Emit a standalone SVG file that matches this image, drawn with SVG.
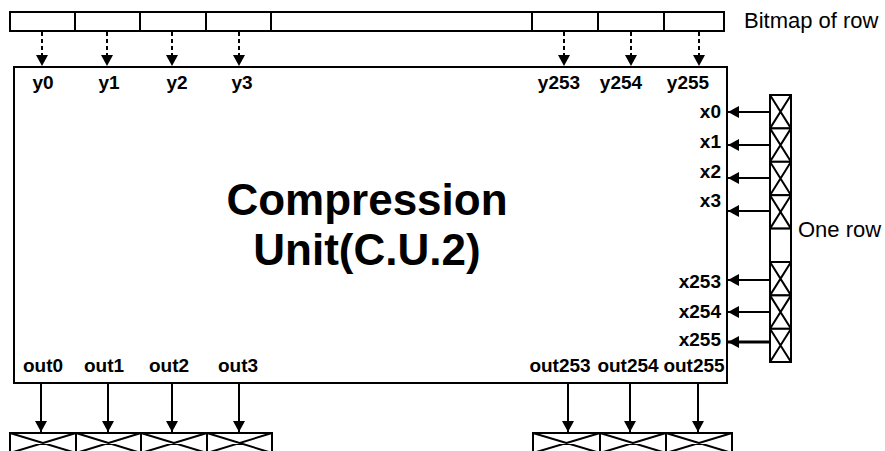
<svg xmlns="http://www.w3.org/2000/svg" width="885" height="451" viewBox="0 0 885 451">
<style>
.cell{fill:#fff;stroke:#000;stroke-width:2}
.x{stroke:#000;stroke-width:2;fill:none}
.box{fill:#fff;stroke:#000;stroke-width:2}
.lbl{font-family:"Liberation Sans",Arial,sans-serif;font-weight:bold;font-size:19px;fill:#000}
.title{font-family:"Liberation Sans",Arial,sans-serif;font-weight:bold;font-size:44px;fill:#000;text-anchor:middle}
.note{font-family:"Liberation Sans",Arial,sans-serif;font-size:22px;fill:#000}
.dash{stroke:#000;stroke-width:2;stroke-dasharray:4 3;fill:none}
.sol{stroke:#000;stroke-width:2;fill:none}
.mid{text-anchor:middle}
.end{text-anchor:end}
</style>
<defs>
<marker id="ah" viewBox="0 0 11 12" refX="11" refY="6" markerWidth="11" markerHeight="12" markerUnits="userSpaceOnUse" orient="auto">
<path d="M0,0 L11,6 L0,12 z" fill="#000"/>
</marker>
<clipPath id="clipBottom"><rect x="0" y="0" width="885" height="451"/></clipPath>
</defs>

<g id="bitmap">
<rect class="cell" x="10" y="12" width="65" height="19"/>
<rect class="cell" x="75" y="12" width="65" height="19"/>
<rect class="cell" x="140" y="12" width="66" height="19"/>
<rect class="cell" x="206" y="12" width="65" height="19"/>
<rect class="cell" x="271" y="12" width="261" height="19"/>
<rect class="cell" x="532" y="12" width="66" height="19"/>
<rect class="cell" x="598" y="12" width="66" height="19"/>
<rect class="cell" x="664" y="12" width="60" height="19"/>
<text class="note" x="744" y="28">Bitmap of row</text>
</g>

<g id="cu">
<rect class="box" x="14" y="67" width="713" height="316"/>
<text class="title" x="367" y="215">Compression</text>
<text class="title" x="367" y="265">Unit(C.U.2)</text>
<g class="lbl mid">
<text x="43" y="89">y0</text>
<text x="109" y="89">y1</text>
<text x="177" y="89">y2</text>
<text x="242" y="89">y3</text>
<text x="559" y="89">y253</text>
<text x="621" y="89">y254</text>
<text x="688" y="89">y255</text>
<text x="43" y="372">out0</text>
<text x="104" y="372">out1</text>
<text x="169" y="372">out2</text>
<text x="238" y="372">out3</text>
<text x="560" y="372">out253</text>
<text x="628" y="372">out254</text>
<text x="694" y="372">out255</text>
</g>
<g class="lbl end">
<text x="721" y="118">x0</text>
<text x="721" y="148">x1</text>
<text x="721" y="178">x2</text>
<text x="721" y="207">x3</text>
<text x="721" y="288">x253</text>
<text x="721" y="318">x254</text>
<text x="721" y="346">x255</text>
</g>
</g>

<g id="onerow">
<rect class="cell" x="770" y="95" width="21" height="33.4"/>
<rect class="cell" x="770" y="128.4" width="21" height="33.4"/>
<rect class="cell" x="770" y="161.8" width="21" height="33.4"/>
<rect class="cell" x="770" y="195.2" width="21" height="33.4"/>
<rect class="cell" x="770" y="228.6" width="21" height="33.4"/>
<rect class="cell" x="770" y="262" width="21" height="33.4"/>
<rect class="cell" x="770" y="295.4" width="21" height="33.4"/>
<rect class="cell" x="770" y="328.8" width="21" height="33.2"/>
<path class="x" d="M770,95 L791,128.4 M791,95 L770,128.4 M770,128.4 L791,161.8 M791,128.4 L770,161.8 M770,161.8 L791,195.2 M791,161.8 L770,195.2 M770,195.2 L791,228.6 M791,195.2 L770,228.6 M770,262 L791,295.4 M791,262 L770,295.4 M770,295.4 L791,328.8 M791,295.4 L770,328.8 M770,328.8 L791,362 M791,328.8 L770,362"/>
<text class="note" x="798" y="237">One row</text>
</g>

<g id="outrow" clip-path="url(#clipBottom)">
<rect class="cell" x="10" y="433" width="66" height="20"/>
<rect class="cell" x="76" y="433" width="65" height="20"/>
<rect class="cell" x="141" y="433" width="66" height="20"/>
<rect class="cell" x="207" y="433" width="65" height="20"/>
<rect class="cell" x="533" y="433" width="67" height="20"/>
<rect class="cell" x="600" y="433" width="66" height="20"/>
<rect class="cell" x="666" y="433" width="66" height="20"/>
<path class="x" d="M10,433 L76,453 M76,433 L10,453 M76,433 L141,453 M141,433 L76,453 M141,433 L207,453 M207,433 L141,453 M207,433 L272,453 M272,433 L207,453 M533,433 L600,453 M600,433 L533,453 M600,433 L666,453 M666,433 L600,453 M666,433 L732,453 M732,433 L666,453"/>
</g>

<g id="connectors">
<g class="dash" marker-end="url(#ah)">
<line x1="42" y1="32" x2="42" y2="66"/>
<line x1="107" y1="32" x2="107" y2="66"/>
<line x1="172" y1="32" x2="172" y2="66"/>
<line x1="239" y1="32" x2="239" y2="66"/>
<line x1="564" y1="32" x2="564" y2="66"/>
<line x1="631" y1="32" x2="631" y2="66"/>
<line x1="699" y1="32" x2="699" y2="66"/>
</g>
<g class="sol" marker-end="url(#ah)">
<line x1="769" y1="112" x2="728" y2="112"/>
<line x1="769" y1="145" x2="728" y2="145"/>
<line x1="769" y1="178" x2="728" y2="178"/>
<line x1="769" y1="211" x2="728" y2="211"/>
<line x1="769" y1="280" x2="728" y2="280"/>
<line x1="769" y1="312" x2="728" y2="312"/>
<line x1="769" y1="342" x2="728" y2="342" stroke-width="3"/>
<line x1="41" y1="384" x2="41" y2="432"/>
<line x1="108" y1="384" x2="108" y2="432"/>
<line x1="172" y1="384" x2="172" y2="432"/>
<line x1="239" y1="384" x2="239" y2="432"/>
<line x1="568" y1="384" x2="568" y2="432"/>
<line x1="630" y1="384" x2="630" y2="432"/>
<line x1="698" y1="384" x2="698" y2="432"/>
</g>
</g>
</svg>
